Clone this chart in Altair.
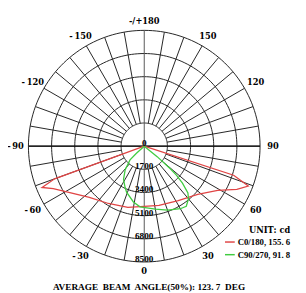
import altair as alt
import pandas as pd
import numpy as np

# ---- data (angle from nadir in degrees, intensity in cd)
red_name = "C0/180, 155. 6"
red_angles = [-90, -70, -68, -65, -58, -47, -32, -15, 0, 14, 32, 48, 59, 65, 69, 72, 90]
red_values = [0, 7000, 8090, 7370, 6440, 5510, 4960, 4650, 4420, 4470, 4710, 5280, 6290, 7500, 8180, 6900, 0]

green_name = "C90/270, 91. 8"
green_angles = [-90, -48, -46, -39, -32, -25, -21, -11, -4, 10, 20, 30, 35, 40, 43, 46, 48, 49, 51, 90]
green_values = [0, 770, 1450, 2220, 2870, 3330, 3620, 4170, 4460, 4700, 5000, 5300, 5380, 5050, 4700, 3900, 3175, 2560, 1220, 0]

ring_values = [1700, 3400, 5100, 6800, 8500]
ring_labels = ["1700", "3400", "5100", "6800", "8500"]
angle_ticks = [0, -30, -60, -90, -120, -150, 180, 150, 120, 90, 60, 30]
angle_tick_labels = ["0", "-\u200930", "-\u200960", "-\u200990", "-\u2009120", "-\u2009150",
                     "-/+180", "150", "120", "90", "60", "30"]
title_text = "AVERAGE\u00a0 BEAM\u00a0 ANGLE(50%): 123. 7\u00a0 DEG"
unit_text = "UNIT: cd"

# ---- geometry of the drawing
W, H = 290, 277
K = 119 / 8500.0          # px per cd
CX, CY = 140, 138         # centre inside the plot area
XMIN, XMAX = -CX / K, (W - CX) / K
YMIN, YMAX = -(H - CY) / K, CY / K

xs = alt.Scale(domain=[XMIN, XMAX], nice=False, zero=False)
ys = alt.Scale(domain=[YMIN, YMAX], nice=False, zero=False)

def X(f="x"):
    return alt.X(f"{f}:Q", scale=xs, axis=None)

def Y(f="y"):
    return alt.Y(f"{f}:Q", scale=ys, axis=None)

RAD = "PI/180"
GRID = "#222222"

# rings
ring_rows = []
for r in ring_values:
    for a in np.arange(0, 362, 2):
        ring_rows.append({"r": r, "a": float(a)})
ring_df = pd.DataFrame(ring_rows)
rings = alt.Chart(ring_df).mark_line(color=GRID, strokeWidth=1.0).transform_calculate(
    x=f"datum.r*sin(datum.a*{RAD})", y=f"-datum.r*cos(datum.a*{RAD})"
).encode(x=X(), y=Y(), detail="r:N", order="a:Q")

# spokes
spoke_df = pd.DataFrame({"a": list(range(-170, 190, 10)), "rin": ring_values[0], "rout": ring_values[-1]})
spokes = alt.Chart(spoke_df).transform_filter("datum.a % 90 != 0").transform_calculate(
    x=f"datum.rin*sin(datum.a*{RAD})", y=f"-datum.rin*cos(datum.a*{RAD})",
    x2=f"datum.rout*sin(datum.a*{RAD})", y2=f"-datum.rout*cos(datum.a*{RAD})"
).mark_rule(color=GRID, strokeWidth=1.0).encode(x=X(), y=Y(), x2="x2:Q", y2="y2:Q")

diam = alt.Chart(spoke_df).transform_filter("datum.a % 90 == 0").transform_calculate(
    x=f"datum.rout*sin(datum.a*{RAD})", y=f"-datum.rout*cos(datum.a*{RAD})",
    x2="0", y2="0"
).mark_rule(color="#555555", strokeWidth=1.0).encode(x=X(), y=Y(), x2="x2:Q", y2="y2:Q")

horiz = alt.Chart(spoke_df).transform_filter("datum.a == 90").transform_calculate(
    x="-datum.rout", x2="datum.rout", y="0"
).mark_rule(color="#000000", strokeWidth=1.2).encode(x=X(), y=Y(), x2="x2:Q")

# curves
curve_df = pd.DataFrame({
    "series": [red_name] * len(red_angles) + [green_name] * len(green_angles),
    "angle": red_angles + green_angles,
    "cd": red_values + green_values,
    "i": list(range(len(red_angles))) + list(range(len(green_angles))),
})
curves = alt.Chart(curve_df).transform_calculate(
    x=f"datum.cd*sin(datum.angle*{RAD})", y=f"-datum.cd*cos(datum.angle*{RAD})"
).mark_line(strokeWidth=1.3).encode(
    x=X(), y=Y(), order="i:Q",
    color=alt.Color("series:N",
        scale=alt.Scale(domain=[red_name, green_name], range=["#e04545", "#40cc40"]),
        legend=alt.Legend(orient="none", legendX=222, legendY=220, title=unit_text,
            titleFont="DejaVu Serif", titleFontSize=8.5, titleFontWeight="bold", titleColor="#000",
            titleAnchor="end", titlePadding=2,
            labelFont="Liberation Serif", labelFontSize=9, labelFontWeight="bold", labelColor="#000",
            symbolType="stroke", symbolSize=100, symbolStrokeWidth=1.5, labelOffset=2,
            rowPadding=2, padding=0, offset=0)),
)

# ring labels
rl_df = pd.DataFrame({"r": [0] + ring_values, "t": ["0"] + ring_labels})
rlabels = alt.Chart(rl_df).transform_calculate(x="0", y="-datum.r").mark_text(
    font="Liberation Serif", fontWeight="bold", fontSize=9.5, color="#000",
    baseline="alphabetic", align="center"
).encode(x=X(), y=Y(), text="t:N")

# angle labels
al_df = pd.DataFrame({"a": angle_ticks, "t": angle_tick_labels})
alabels = alt.Chart(al_df).transform_calculate(
    rr="9450 - 300*pow(cos(datum.a*PI/180), 8)",
    x=f"datum.rr*sin(datum.a*{RAD})", y=f"-datum.rr*cos(datum.a*{RAD})"
).mark_text(font="DejaVu Serif", fontWeight="bold", fontSize=8.5, color="#000",
    baseline="middle", align="center").encode(x=X(), y=Y(), text="t:N")

chart = alt.layer(rings, spokes, diam, horiz, curves, rlabels, alabels).properties(
    width=W, height=H,
    autosize=alt.AutoSizeParams(type="none"),
    padding={"left": 0, "top": 0, "right": 8, "bottom": 12},
    background="white",
    title=alt.TitleParams(title_text, orient="bottom", anchor="middle", offset=1, dx=0,
        font="Liberation Serif", fontSize=9.5, fontWeight="bold", color="#000"),
).configure_view(stroke=None)

chart.save("out.html", embed_options={"renderer": "svg", "actions": False})
